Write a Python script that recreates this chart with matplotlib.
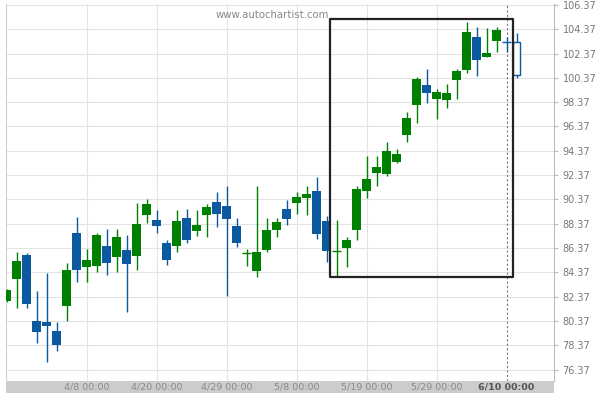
import matplotlib
matplotlib.use("Agg")
import matplotlib.pyplot as plt
from matplotlib.patches import Rectangle
import numpy as np

# ---- data ----
opens = [82.03, 83.82, 85.79, 80.36, 80.28, 79.54, 81.60, 87.60, 84.81, 84.89,
         86.53, 85.63, 86.21, 85.71, 89.11, 88.67, 86.78, 86.56, 88.84, 87.79,
         89.09, 90.16, 89.82, 88.18, 85.93, 84.50, 86.21, 87.85, 89.58, 90.10,
         90.51, 91.06, 88.59, 86.09, 86.39, 87.88, 91.09, 92.57, 92.46, 93.45,
         95.67, 98.16, 99.79, 98.66, 98.56, 100.20, 101.05, 103.77, 102.12, 103.38,
         103.34, 103.30]
highs = [83.00, 86.02, 85.98, 82.83, 84.29, 80.25, 85.11, 88.90, 86.26, 87.63,
         87.91, 87.91, 87.44, 90.07, 90.38, 89.47, 87.00, 89.50, 89.58, 89.50,
         89.99, 91.00, 91.47, 88.81, 86.26, 91.47, 88.81, 88.81, 90.32, 90.98,
         91.47, 92.19, 89.00, 88.67, 87.25, 91.47, 93.94, 93.94, 95.07, 94.54,
         97.54, 100.42, 101.11, 99.43, 99.84, 101.08, 105.00, 104.59, 104.48, 104.53,
         103.71, 104.04]
lows = [81.90, 81.46, 81.46, 78.53, 77.01, 77.92, 80.39, 83.55, 83.55, 84.42,
        84.17, 84.42, 81.13, 84.58, 88.40, 87.58, 85.00, 86.02, 86.76, 87.38,
        87.30, 88.12, 82.42, 86.48, 84.89, 84.01, 86.07, 87.25, 88.24, 89.14,
        89.06, 87.09, 85.19, 84.07, 84.78, 87.03, 90.46, 91.50, 92.32, 93.37,
        95.12, 96.68, 98.32, 96.96, 97.92, 98.66, 100.75, 100.50, 102.12, 102.48,
        102.48, 100.37]
closes = [82.91, 85.30, 81.76, 79.48, 79.98, 78.39, 84.56, 84.56, 85.38, 87.44,
          85.16, 87.28, 85.05, 88.35, 89.99, 88.21, 85.41, 88.59, 87.03, 88.26,
          89.74, 89.19, 88.78, 86.81, 85.95, 86.04, 87.85, 88.51, 88.76, 90.57,
          90.81, 87.55, 86.15, 86.10, 87.03, 91.23, 92.05, 93.06, 94.35, 94.11,
          97.07, 100.28, 99.16, 99.21, 99.13, 100.96, 104.18, 101.88, 102.45, 104.34,
          103.33, 100.64]

tick_idx = [8, 15, 22, 29, 36, 43, 50]
tick_labels = ["4/8 00:00", "4/20 00:00", "4/29 00:00", "5/8 00:00",
               "5/19 00:00", "5/29 00:00", "6/10 00:00"]
price_ticks = [76.37 + 2 * i for i in range(16)]

# pattern box (data coords) and current-time marker
box_x = (32.35, 50.62)
box_y = (84.01, 105.19)
now_idx = 50

UP = "#008000"
DOWN = "#0b5aa0"

fig = plt.figure(figsize=(6, 4), dpi=100)
W, H = 600, 400
left, right, top, bottom = 6, 554.3, 4, 380.7
ax = fig.add_axes([left / W, 1 - bottom / H, (right - left) / W, (bottom - top) / H])

ax.set_xlim(-0.05, 54.78)
ax.set_ylim(75.45, 106.45)

# grid
for p in price_ticks:
    ax.axhline(p, color="#e3e3e3", lw=0.8, zorder=0)
for t in tick_idx[:-1]:
    ax.axvline(t, color="#e3e3e3", lw=0.8, zorder=0)
ax.axvline(now_idx, color="#777777", lw=0.8, ls=(0, (2, 2)), zorder=1)

n = len(opens)
for i in range(n):
    o, h, l, c = opens[i], highs[i], lows[i], closes[i]
    col = UP if c > o else DOWN
    hollow = (i == n - 1)
    ax.vlines(i, l, h, color=col, lw=1.0, zorder=2)
    lo, hi = min(o, c), max(o, c)
    if hi - lo < 0.12:
        ax.hlines((o + c) / 2, i - 0.45, i + 0.45, color=col, lw=1.0, zorder=3)
    else:
        if hollow:
            ax.bar(i, hi - lo, bottom=lo, width=0.75, facecolor="white",
                   edgecolor=col, lw=1.0, zorder=3)
        else:
            ax.bar(i, hi - lo, bottom=lo, width=0.9, color=col, lw=0, zorder=3)

# pattern rectangle
ax.add_patch(Rectangle((box_x[0], box_y[0]), box_x[1] - box_x[0], box_y[1] - box_y[0],
                       fill=False, edgecolor="#222222", lw=1.6, zorder=4,
                       joinstyle="round"))

# spines
for s in ["top", "bottom"]:
    ax.spines[s].set_visible(False)
ax.spines["left"].set_color("#d0d0d0")
ax.spines["right"].set_color("#bbbbbb")
ax.spines["left"].set_linewidth(0.8)
ax.spines["right"].set_linewidth(0.8)

ax.yaxis.tick_right()
ax.set_yticks(price_ticks)
ax.set_yticklabels([f"{p:.2f}" for p in price_ticks])
ax.tick_params(axis="y", length=3, color="#bbbbbb", width=0.8, pad=3,
               labelsize=7, labelcolor="#777777")
ax.set_xticks([])

# x-axis band
trans = ax.get_xaxis_transform()
band_h = 12.6 / (bottom - top)
ax.add_patch(Rectangle((-0.05, -band_h), 54.83, band_h, transform=trans,
                       facecolor="#cccccc", edgecolor="none", clip_on=False, zorder=5))
for t, lab in zip(tick_idx, tick_labels):
    last = (t == tick_idx[-1])
    ax.text(t, -band_h / 2, lab, transform=trans, ha="center", va="center",
            fontsize=6.8, color="#555555" if last else "#8a8a8a",
            fontweight="bold" if last else "normal", clip_on=False, zorder=6)

# watermark
fig.text(272 / W, 1 - 15.5 / H, "www.autochartist.com", ha="center", va="center",
         fontsize=7.3, color="#888888")

fig.savefig("out.png", dpi=100)
